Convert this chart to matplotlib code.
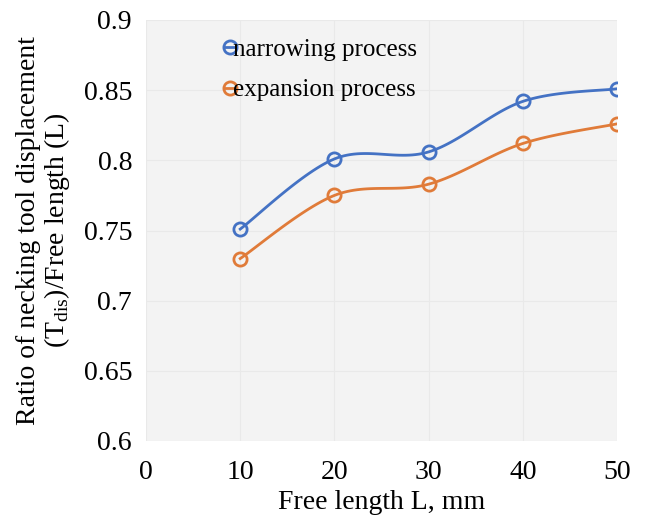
import matplotlib.pyplot as plt
import numpy as np
from matplotlib.lines import Line2D

plt.rcParams['font.family'] = ['Liberation Serif', 'DejaVu Serif']
plt.rcParams['mathtext.fontset'] = 'custom'
plt.rcParams['mathtext.rm'] = 'Liberation Serif'

free_length = [10, 20, 30, 40, 50]
narrowing = [0.751, 0.801, 0.806, 0.842, 0.851]
expansion = [0.730, 0.775, 0.783, 0.812, 0.826]

blue = '#4472C4'
orange = '#E07B39'


def smooth_curve(x, y, n=30):
    # excel style smoothed line (bezier with 1/6 tangents)
    x = np.asarray(x, float)
    y = np.asarray(y, float)
    pts = np.column_stack([x, y])
    out = []
    t = np.linspace(0, 1, n)
    for i in range(len(pts) - 1):
        p0 = pts[i - 1] if i > 0 else pts[i]
        p1 = pts[i]
        p2 = pts[i + 1]
        p3 = pts[i + 2] if i + 2 < len(pts) else pts[i + 1]
        c1 = p1 + (p2 - p0) / 6
        c2 = p2 - (p3 - p1) / 6
        seg = ((1 - t) ** 3)[:, None] * p1 + (3 * (1 - t) ** 2 * t)[:, None] * c1 \
            + (3 * (1 - t) * t ** 2)[:, None] * c2 + (t ** 3)[:, None] * p2
        out.append(seg)
    out = np.vstack(out)
    return out[:, 0], out[:, 1]


fig = plt.figure(figsize=(6.46, 5.2), dpi=100)
ax = fig.add_axes([146 / 646, 1 - 441 / 520, (617 - 146) / 646, (441 - 20) / 520])
ax.set_facecolor('#f3f3f3')

for ys, c in [(narrowing, blue), (expansion, orange)]:
    sx, sy = smooth_curve(free_length, ys)
    ax.plot(sx, sy, color=c, lw=2, zorder=3)
    ax.plot(free_length, ys, 'o', ms=9.5, mfc='none', mec=c, mew=2, zorder=4)

ax.set_xlim(0, 50)
ax.set_ylim(0.6, 0.9)
ax.set_xticks([0, 10, 20, 30, 40, 50])
ax.set_yticks([0.6, 0.65, 0.7, 0.75, 0.8, 0.85, 0.9])
ax.set_yticklabels(['0.6', '0.65', '0.7', '0.75', '0.8', '0.85', '0.9'])
ax.tick_params(length=0, labelsize=20)
ax.tick_params(axis='x', pad=14)
ax.tick_params(axis='y', pad=10)
ax.grid(True, color='#e9e9e9', lw=0.8)
ax.set_axisbelow(True)
for s in ax.spines.values():
    s.set_visible(False)

ax.set_xlabel('Free length L, mm', fontsize=20, labelpad=3)
ax.set_ylabel('Ratio of necking tool displacement\n(T$_{\\mathrm{dis}}$)/Free length (L)',
              fontsize=20, labelpad=8, linespacing=1.05)

handles = [
    Line2D([0], [0], color=blue, lw=2, marker='o', ms=9.5, mfc='none', mec=blue, mew=2),
    Line2D([0], [0], color=orange, lw=2, marker='o', ms=9.5, mfc='none', mec=orange, mew=2),
]
ax.legend(handles, ['narrowing process', 'expansion process'], loc='upper left',
          bbox_to_anchor=(0.12, 1.01), frameon=False, fontsize=18,
          handlelength=0.4, handletextpad=-0.1, labelspacing=0.72)

fig.savefig('out.png', dpi=100)
